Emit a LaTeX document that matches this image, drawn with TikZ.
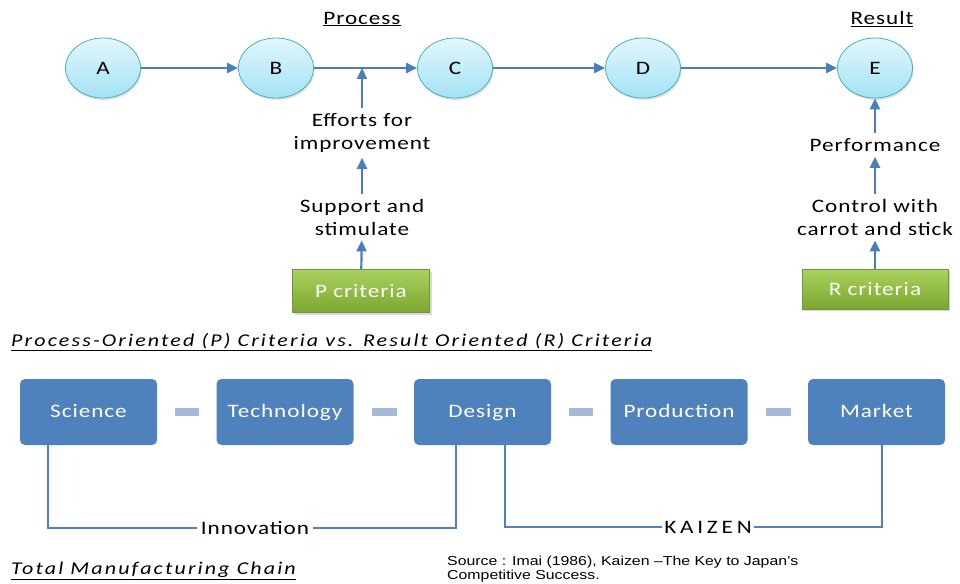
\documentclass[tikz,border=0pt]{standalone}
\usepackage{fontspec}
\setmainfont{Carlito}[FakeStretch=1.22,LetterSpace=5]
\newfontfamily\srcfont{Liberation Sans}[FakeStretch=1.22]
\usetikzlibrary{arrows.meta,shapes.geometric,shadows}
\definecolor{arrowblue}{HTML}{4A7EBB}
\definecolor{circedge}{HTML}{4BACC6}
\definecolor{circtop}{HTML}{E2F7FD}
\definecolor{circbot}{HTML}{A3E2F5}
\definecolor{chainblue}{HTML}{4F81BD}
\definecolor{dashcol}{HTML}{A7B9D8}
\definecolor{greentop}{HTML}{AAD25E}
\definecolor{greenbot}{HTML}{7CA631}
\definecolor{greenedge}{HTML}{6F9636}
\begin{document}
\begin{tikzpicture}[x=1pt, y=-1pt, >={Triangle[length=11pt,width=10pt]}]
        \tikzstyle{circ} = [ellipse, draw=circedge, line width=0.8pt, top color=circtop, bottom color=circbot, minimum width=75pt, minimum height=60pt, inner sep=0pt, font=\fontsize{19}{23}\selectfont, drop shadow={shadow xshift=1pt, shadow yshift=-2pt, opacity=0.25}]
        \tikzstyle{crit} = [rectangle, draw=greenedge, line width=0.8pt, top color=greentop, bottom color=greenbot, text=white, font=\fontsize{19}{23}\selectfont, drop shadow={shadow xshift=2pt, shadow yshift=-2pt, opacity=0.3}]
        \tikzstyle{chain} = [rectangle, rounded corners=5pt, fill=chainblue, text=white, minimum width=137pt, minimum height=66pt, text height=13pt, text depth=3pt, font=\fontsize{19}{23}\selectfont]
        \tikzstyle{lbl} = [align=center, inner sep=5pt, font=\fontsize{19}{23}\selectfont]
        \tikzstyle{capt} = [inner sep=0pt, font=\fontsize{18}{22}\selectfont\itshape\addfontfeature{LetterSpace=12}]
        \tikzstyle{arr} = [draw=arrowblue, line width=2.2pt, ->]
        \tikzstyle{conn} = [draw=chainblue, line width=2.2pt]
        \tikzstyle{dashbar} = [draw=dashcol, line width=8pt, shorten <=18pt, shorten >=17pt]

        \useasboundingbox (0,0) rectangle (960,583);

        % process chain
        \node [circ] (A) at (103,68) {A};
        \node [circ] (B) at (276,68) {B};
        \node [circ] (C) at (455,68) {C};
        \node [circ] (D) at (643,68) {D};
        \node [circ] (E) at (875,68) {E};
        \node [lbl, inner sep=0pt] (process) at (362,19) {\underline{Process}};
        \node [lbl, inner sep=0pt] (result) at (882,19) {\underline{Result}};

        \draw [arr] (A) -- (B);
        \draw [arr] (B) -- (C);
        \draw [arr] (C) -- (D);
        \draw [arr] (D) -- (E);

        % P side
        \node [lbl] (effort) at (362,133) {Efforts for\\improvement};
        \node [lbl] (support) at (362,217) {Support and\\stimulate};
        \node [crit, minimum width=137pt, minimum height=43pt] (pcrit) at (361,291) {P criteria};
        \draw [arr] (effort) -- (effort |- B);
        \draw [arr] (support) -- (effort);
        \draw [arr] (pcrit) -- (support);

        % R side
        \node [lbl] (perf) at (875,145) {Performance};
        \node [lbl] (control) at (875,217) {Control with\\carrot and stick};
        \node [crit, minimum width=146pt, minimum height=40pt] (rcrit) at (875,289) {R criteria};
        \draw [arr] (perf) -- (E);
        \draw [arr] (control) -- (perf);
        \draw [arr] (rcrit) -- (control);

        \node [capt, anchor=west] (pcap) at (11,342) {\underline{Process-Oriented (P) Criteria vs. Result Oriented (R) Criteria}};

        % manufacturing chain
        \node [chain] (sci) at (88.5,412) {Science};
        \node [chain] (tech) at (285,412) {Technology};
        \node [chain] (des) at (482.5,412) {Design};
        \node [chain] (prod) at (679,412) {Production};
        \node [chain] (mkt) at (876.5,412) {Market};
        \draw [dashbar] (sci) -- (tech);
        \draw [dashbar] (tech) -- (des);
        \draw [dashbar] (des) -- (prod);
        \draw [dashbar] (prod) -- (mkt);

        \node [lbl, inner sep=4pt] (innov) at (255,528) {Innovation};
        \coordinate (innL) at (48,528);
        \coordinate (innR) at (456,528);
        \draw [conn] (innL |- sci.south) -- (innL) -- (innov);
        \draw [conn] (innov) -- (innR) -- (innR |- des.south);

        \node [lbl, inner sep=2pt, font=\fontsize{19}{23}\selectfont\addfontfeature{LetterSpace=20}] (kaizen) at (708,527) {KAIZEN};
        \coordinate (kzL) at (505,527);
        \coordinate (kzR) at (882,527);
        \draw [conn] (kzL |- des.south) -- (kzL) -- (kaizen);
        \draw [conn] (kaizen) -- (kzR) -- (kzR |- mkt.south);

        \node [capt, anchor=west] (tcap) at (11,571) {\underline{Total Manufacturing Chain}};
        \node [anchor=north west, align=left, inner sep=0pt, font=\srcfont\fontsize{13}{14}\selectfont] (source) at (447,556) {Source : Imai (1986), Kaizen –The Key to Japan’s\\Competitive Success.};
    \end{tikzpicture}
\end{document}
